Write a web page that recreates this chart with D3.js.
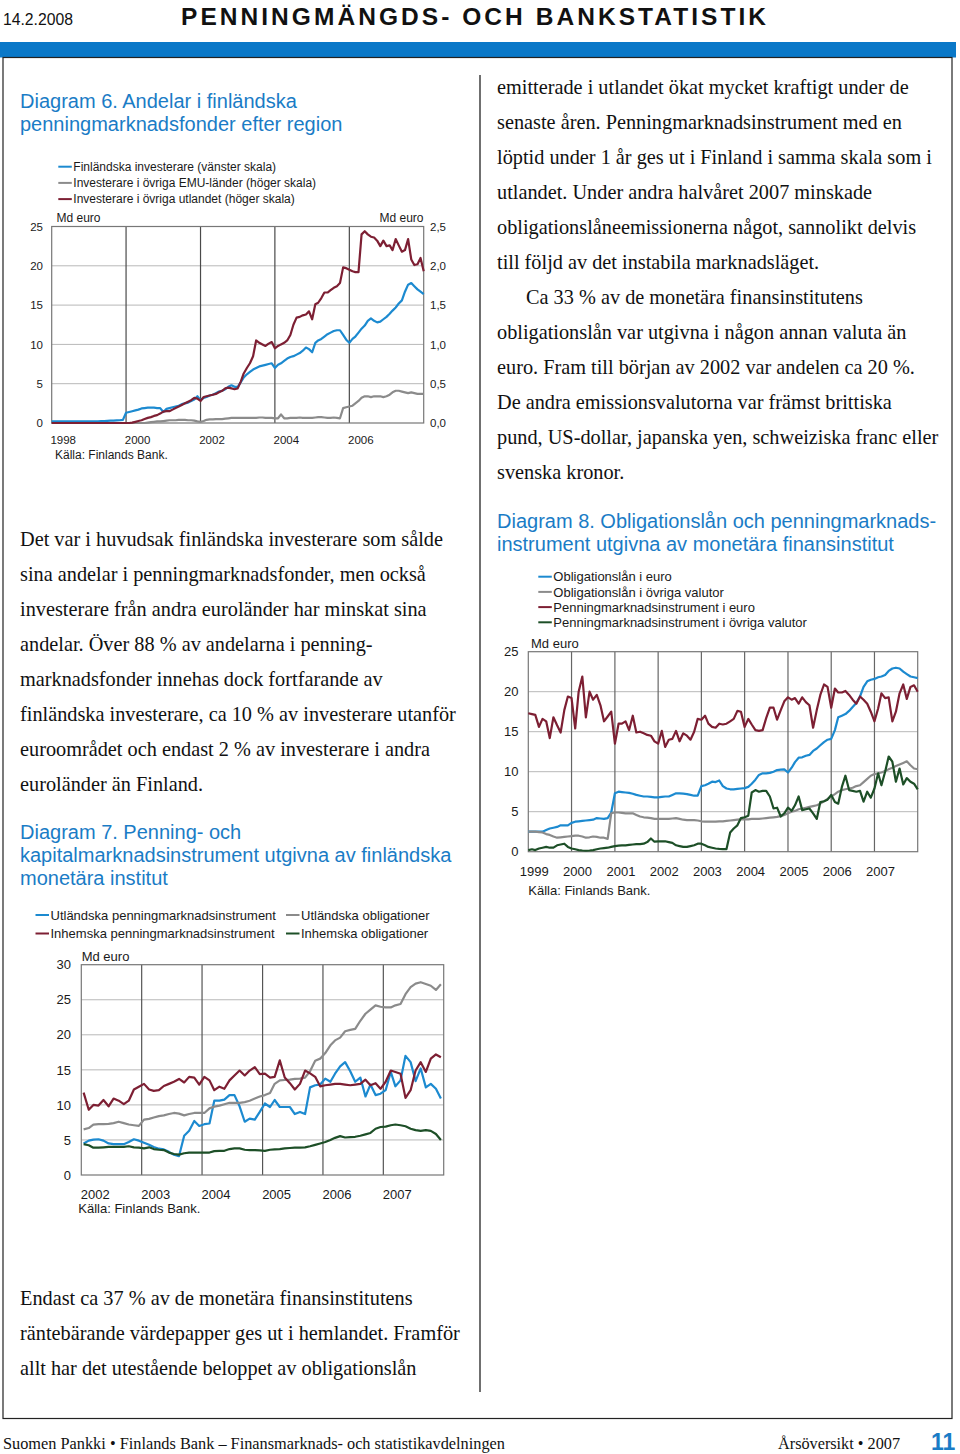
<!DOCTYPE html>
<html><head><meta charset="utf-8">
<script src="https://cdn.jsdelivr.net/npm/d3@7"></script>
<style>body{margin:0;background:#fff}svg{display:block}</style>
</head><body>
<svg id="page" width="960" height="1454"></svg>
<script>
// ---------------- DATA ----------------
// Diagram 6 (monthly from 1998-01), left scale Md euro; EMU/other on right scale Md euro
const c6Finnish = [0.2,
0.2,0.2,0.2,0.2,0.2,0.2,0.2,0.2,0.2,0.2,0.2,0.2,
0.2,0.2,0.22,0.25,0.25,0.28,0.3,0.3,0.33,0.35,0.4,
1.3,1.4,1.5,1.6,1.7,1.85,1.9,1.95,1.95,1.95,1.9,1.9,
1.4,1.8,1.9,2.0,2.1,2.2,2.4,2.5,2.6,2.8,3.0,3.4,
2.9,3.2,3.3,3.5,3.6,3.8,4.0,4.1,4.3,4.6,4.8,4.6,
4.6,5.2,5.8,6.2,6.5,6.8,7.0,7.2,7.3,7.4,7.5,7.6,
7.0,7.4,7.6,7.9,8.2,8.4,8.5,8.7,8.9,9.2,9.6,9.4,
9.0,10.2,10.5,10.7,11.0,11.3,11.5,11.7,11.8,11.8,11.2,10.6,
10.2,10.7,11.0,11.5,12.0,12.4,13.0,13.3,13.0,12.8,12.9,13.2,
13.5,13.9,14.3,14.7,15.2,15.6,16.7,17.6,17.8,17.4,17.0,16.7,
16.4];
const c6EMU = [0,
0,0,0,0,0,0,0,0,0,0,0,0,
0,0,0,0,0,0,0,0,0,0,0,
0,0,0,0,0,0,0,0.005,0.01,0.015,0.02,0.02,
0.025,0.03,0.035,0.035,0.035,0.04,0.04,0.04,0.035,0.035,0.03,0.02,
0.015,0.025,0.04,0.045,0.045,0.05,0.05,0.05,0.055,0.06,0.065,0.065,
0.065,0.065,0.065,0.065,0.065,0.065,0.065,0.07,0.07,0.065,0.065,0.065,
0.06,0.06,0.11,0.06,0.06,0.065,0.065,0.065,0.07,0.065,0.065,0.065,
0.065,0.07,0.075,0.075,0.07,0.065,0.065,0.07,0.065,0.06,0.19,0.20,
0.21,0.22,0.25,0.28,0.32,0.34,0.34,0.33,0.34,0.34,0.34,0.33,
0.34,0.36,0.39,0.41,0.41,0.40,0.39,0.38,0.39,0.38,0.37,0.37,
0.37];
const c6Other = [0,
0,0,0,0,0,0,0,0,0,0,0,0,
0,0,0,0,0,0,0,0,0,0,0,
0,0,0.005,0.015,0.025,0.035,0.05,0.065,0.075,0.09,0.1,0.12,
0.145,0.15,0.15,0.17,0.19,0.21,0.23,0.25,0.27,0.29,0.32,0.31,
0.28,0.33,0.34,0.35,0.36,0.37,0.39,0.41,0.44,0.45,0.44,0.43,
0.44,0.53,0.63,0.70,0.76,0.85,1.05,1.02,1.00,0.98,1.01,1.03,
0.95,0.98,1.00,1.02,1.05,1.12,1.25,1.34,1.35,1.37,1.38,1.42,
1.32,1.51,1.53,1.59,1.66,1.66,1.69,1.72,1.74,1.78,1.98,1.97,
1.95,1.93,1.92,1.92,2.40,2.44,2.40,2.37,2.36,2.32,2.25,2.32,
2.25,2.26,2.20,2.34,2.26,2.18,2.20,2.34,2.08,2.01,2.02,2.10,
1.93];
const c6Labels = ["Finländska investerare (vänster skala)","Investerare i övriga EMU-länder (höger skala)","Investerare i övriga utlandet (höger skala)"];
const c6YTicks = [0,5,10,15,20,25];
const c6YTicksRight = [0,0.5,1,1.5,2,2.5];
const c6XTicks = [1998,2000,2002,2004,2006];

// Diagram 8 (monthly from 1999-01)
const c8BondsEuro = [2.5,2.5,2.5,2.5,2.5,
2.7,2.9,3.0,3.1,3.3,3.3,3.3,3.6,3.75,3.8,
3.85,3.9,3.95,4.0,4.2,4.15,4.1,4.2,4.9,7.3,
7.5,7.45,7.4,7.35,7.25,7.1,7.0,6.9,6.9,6.85,
6.8,6.8,6.85,6.9,6.9,7.1,7.3,7.3,7.25,7.2,
7.1,7.0,7.0,8.2,8.3,8.5,8.75,8.7,8.9,8.2,
7.9,7.8,7.8,7.85,7.9,7.95,8.1,8.5,9.0,9.6,
9.8,9.8,9.85,10.0,10.2,10.25,10.3,9.9,10.5,11.2,
11.75,11.8,12.0,12.1,12.6,12.9,13.3,13.7,14.0,14.1,
15.2,16.8,17.0,17.2,17.6,18.1,18.6,19.4,20.6,21.3,
21.5,21.6,21.8,21.9,22.1,22.6,22.9,23.0,22.9,22.5,
22.2,21.9,21.8,21.7];
const c8BondsOther = [2.5,2.5,2.5,2.45,2.4,
2.2,2.1,1.9,1.75,1.8,1.85,1.9,1.95,2.0,2.0,
1.9,1.75,1.8,1.9,1.85,1.75,1.75,1.6,4.8,4.9,
4.9,4.85,4.8,4.8,4.8,4.6,4.4,4.3,4.25,4.2,
4.1,4.1,4.1,4.1,4.1,4.15,4.2,4.1,4.0,3.95,
3.95,3.95,3.9,3.8,3.75,3.75,3.75,3.75,3.8,3.8,
3.85,3.9,3.95,4.0,4.05,4.05,4.05,4.1,4.1,4.1,
4.15,4.2,4.25,4.3,4.35,4.45,4.6,4.8,5.0,5.1,
5.3,5.4,5.5,5.6,5.7,5.8,6.0,6.3,6.6,6.9,
7.2,7.5,7.7,7.8,7.9,8.0,8.2,8.3,8.7,9.1,
9.5,9.7,9.8,9.9,10.1,10.3,10.5,10.7,10.9,11.1,
11.3,10.8,10.4,10.3];
const c8MoneyEuro = [17.3,17.2,17.1,15.6,16.6,16.3,14.2,16.8,15.8,14.9,
17.7,19.4,19.2,15.4,20.0,21.9,16.8,20.0,19.0,19.6,
18.3,16.3,16.9,17.5,13.5,16.0,16.0,16.3,15.2,17.0,
14.9,15.0,14.8,14.6,14.5,13.8,13.5,15.1,13.1,14.0,
14.1,15.1,13.8,14.8,14.5,14.0,15.0,16.6,16.5,17.0,
16.0,15.6,15.5,16.0,15.9,16.0,16.3,16.6,17.6,17.5,
15.6,16.6,15.9,15.2,15.1,15.2,16.7,18.0,18.0,16.5,
17.7,18.8,19.3,19.0,19.2,18.5,19.3,18.7,18.3,15.5,
17.7,19.6,20.9,20.6,18.0,20.4,19.9,19.9,20.1,19.6,
19.0,18.5,19.4,19.0,18.5,17.5,16.3,17.9,19.8,19.2,
19.3,16.3,17.5,19.8,20.9,19.1,20.6,20.8,20.0];
const c8MoneyOther = [0.2,0.3,0.2,0.4,0.5,0.6,0.5,0.5,0.8,0.9,
1.0,0.6,0.4,0.3,0.2,0.15,0.12,0.15,0.2,0.3,
0.4,0.45,0.5,0.6,0.7,0.75,0.8,0.8,0.85,0.9,
0.95,0.95,1.0,1.2,1.65,1.25,1.3,1.3,1.3,1.2,
1.1,0.8,0.7,0.6,0.6,0.7,0.8,1.0,1.0,0.8,
0.6,0.5,0.4,0.35,0.33,0.33,2.4,2.9,3.3,4.2,
4.3,4.5,7.4,7.7,7.5,7.6,7.6,6.9,5.4,5.5,
4.4,4.8,5.5,5.1,5.8,6.9,5.2,5.3,5.4,4.8,
4.1,6.2,6.3,6.5,7.1,6.2,6.0,8.1,9.5,7.7,
7.6,7.5,7.6,6.25,7.5,6.75,7.9,9.8,8.3,10.0,
11.9,11.25,8.75,10.4,8.4,9.2,8.75,8.5,7.8];
const c8Labels = ["Obligationslån i euro","Obligationslån i övriga valutor","Penningmarknadsinstrument i euro","Penningmarknadsinstrument i övriga valutor"];
const c8YTicks = [0,5,10,15,20,25];
const c8XTicks = [1999,2000,2001,2002,2003,2004,2005,2006,2007];

// Diagram 7 (monthly from 2002-01)
const c7ForeignMoney = [4.5,4.9,5.05,5.1,4.9,4.5,4.4,4.4,4.4,4.7,
5.1,4.9,4.6,4.3,4.0,3.75,3.65,3.3,2.9,2.7,
5.6,6.3,7.7,7.0,7.25,7.35,10.6,10.6,10.75,11.4,
11.4,9.8,7.6,8.05,7.9,9.0,10.2,9.7,10.7,9.7,
9.7,9.7,8.7,9.0,8.7,12.5,12.8,12.9,13.75,13.3,
14.45,15.5,16.1,14.8,13.3,13.9,11.2,12.9,11.4,11.6,
12.1,14.7,12.65,13.5,17.0,16.1,13.4,15.2,12.5,13.0,
12.3,10.9];
const c7ForeignBonds = [6.5,6.7,7.2,7.25,7.25,7.3,7.4,7.6,7.4,7.2,
7.1,7.0,7.9,8.0,8.2,8.4,8.5,8.7,8.85,8.75,
8.5,8.7,8.85,8.85,8.85,9.5,9.75,9.9,10.1,10.3,
10.3,10.3,10.4,10.6,10.9,11.2,11.4,11.7,13.0,13.5,
13.55,13.6,13.7,13.75,13.9,14.8,16.3,16.6,17.4,18.5,
19.2,19.6,20.5,20.7,20.85,22.0,23.0,23.6,24.2,24.0,
23.9,23.9,24.2,24.4,25.8,26.8,27.3,27.5,27.25,27.0,
26.4,27.2];
const c7DomesticMoney = [11.75,9.3,10.0,9.9,10.7,9.8,10.9,10.6,10.1,10.6,
12.2,12.6,13.0,12.2,12.0,12.1,12.7,13.0,13.3,13.7,
13.2,14.0,13.9,12.9,14.0,13.5,12.1,12.6,12.3,13.5,
14.2,14.9,14.2,14.9,15.4,14.4,14.45,13.9,14.0,16.35,
13.9,13.1,12.2,13.0,14.9,14.5,14.0,12.65,12.8,12.9,
13.0,13.0,12.9,12.8,12.9,13.0,13.6,12.8,13.1,12.3,
13.3,14.9,14.7,14.45,11.0,12.1,14.9,16.1,14.7,16.6,
17.2,16.8];
const c7DomesticBonds = [4.4,4.25,3.9,3.9,3.95,4.0,4.0,4.0,4.0,4.1,
3.95,3.9,3.8,3.95,3.7,3.6,3.55,3.2,3.0,2.9,
3.1,3.2,3.2,3.2,3.2,3.2,3.4,3.45,3.45,3.7,
3.8,3.8,3.6,3.55,3.55,3.5,3.45,3.6,3.65,3.7,
3.8,3.85,3.9,3.9,3.95,4.1,4.3,4.5,4.7,5.0,
5.3,5.55,5.35,5.4,5.45,5.6,5.8,6.0,6.6,6.85,
6.9,7.1,7.2,7.1,6.95,6.6,6.4,6.3,6.4,6.3,
5.85,5.0];
const c7Labels = ["Utländska penningmarknadsinstrument","Utländska obligationer","Inhemska penningmarknadsinstrument","Inhemska obligationer"];
const c7YTicks = [0,5,10,15,20,25,30];
const c7XTicks = [2002,2003,2004,2005,2006,2007];

// Text
const headerDate = "14.2.2008";
const headerTitle = "PENNINGMÄNGDS- OCH BANKSTATISTIK";
const c6Title = ["Diagram 6. Andelar i finländska","penningmarknadsfonder efter region"];
const c8Title = ["Diagram 8. Obligationslån och penningmarknads-","instrument utgivna av monetära finansinstitut"];
const c7Title = ["Diagram 7. Penning- och","kapitalmarknadsinstrument utgivna av finländska","monetära institut"];
const leftText = ["Det var i huvudsak finländska investerare som sålde","sina andelar i penningmarknadsfonder, men också","investerare från andra euroländer har minskat sina","andelar. Över 88 % av andelarna i penning-","marknadsfonder innehas dock fortfarande av","finländska investerare, ca 10 % av investerare utanför","euroområdet och endast 2 % av investerare i andra","euroländer än Finland."];
const rightText = ["emitterade i utlandet ökat mycket kraftigt under de","senaste åren. Penningmarknadsinstrument med en","löptid under 1 år ges ut i Finland i samma skala som i","utlandet. Under andra halvåret 2007 minskade","obligationslåneemissionerna något, sannolikt delvis","till följd av det instabila marknadsläget.","Ca 33 % av de monetära finansinstitutens","obligationslån var utgivna i någon annan valuta än","euro. Fram till början av 2002 var andelen ca 20 %.","De andra emissionsvalutorna var främst brittiska","pund, US-dollar, japanska yen, schweiziska franc eller","svenska kronor."];
const bottomText = ["Endast ca 37 % av de monetära finansinstitutens","räntebärande värdepapper ges ut i hemlandet. Framför","allt har det utestående beloppet av obligationslån"];
const footerLeft = "Suomen Pankki • Finlands Bank – Finansmarknads- och statistikavdelningen";
const footerRight = "Årsöversikt • 2007";
const pageNo = "11";

// ---------------- DRAWING ----------------
const SANS = "'Liberation Sans', Arial, Helvetica, sans-serif";
const SERIF = "'Liberation Serif', 'Times New Roman', serif";
const BLUE = "#1c8ad0", RED = "#7d1f33", GRAY = "#8b8b8b", GREEN = "#1d4f27";
const TITLEBLUE = "#1a7cc6";
const svg = d3.select("#page");

function txt(x, y, s, o) {
  o = o || {};
  const t = svg.append("text").attr("x", x).attr("y", y).text(s)
    .attr("font-family", o.family || SANS).attr("font-size", o.size || 12)
    .attr("fill", o.fill || "#1a1a1a");
  if (o.anchor) t.attr("text-anchor", o.anchor);
  if (o.weight) t.attr("font-weight", o.weight);
  if (o.len) t.attr("textLength", o.len).attr("lengthAdjust", o.adjust || "spacing");
  return t;
}

// header
txt(3, 25, headerDate, {size: 16, len: 70, adjust: "spacingAndGlyphs", fill: "#111"});
txt(181, 25, headerTitle, {size: 24.5, weight: "bold", len: 585, fill: "#111"});
svg.append("rect").attr("x", 0).attr("y", 42).attr("width", 956).attr("height", 15.5).attr("fill", "#0a78c8");
svg.append("rect").attr("x", 3).attr("y", 57.5).attr("width", 949).attr("height", 1361)
  .attr("fill", "none").attr("stroke", "#222").attr("stroke-width", 1.2);
svg.append("line").attr("x1", 480).attr("x2", 480).attr("y1", 75).attr("y2", 1392)
  .attr("stroke", "#222").attr("stroke-width", 1.3);

// body texts
leftText.forEach((s, i) => txt(20, 546 + 35 * i, s, {family: SERIF, size: 20.3, fill: "#111"}));
rightText.forEach((s, i) => txt(i === 6 ? 526 : 497, 94 + 35 * i, s, {family: SERIF, size: 20.3, fill: "#111"}));
bottomText.forEach((s, i) => txt(20, 1305 + 35 * i, s, {family: SERIF, size: 20.3, fill: "#111"}));

// titles
c6Title.forEach((s, i) => txt(20, 108 + 23 * i, s, {size: 20, fill: TITLEBLUE}));
c8Title.forEach((s, i) => txt(497, 528 + 23 * i, s, {size: 20, fill: TITLEBLUE}));
c7Title.forEach((s, i) => txt(20, 839 + 23 * i, s, {size: 20, fill: TITLEBLUE}));

// footer
txt(3, 1449, footerLeft, {family: SERIF, size: 16, len: 502, adjust: "spacingAndGlyphs", fill: "#111"});
txt(778, 1449, footerRight, {family: SERIF, size: 16, len: 122, adjust: "spacingAndGlyphs", fill: "#111"});
txt(931, 1450, pageNo, {size: 23, weight: "bold", fill: TITLEBLUE});

function legendItem(x, y, color, label, size) {
  svg.append("line").attr("x1", x).attr("x2", x + 13.5).attr("y1", y).attr("y2", y)
    .attr("stroke", color).attr("stroke-width", 2);
  txt(x + 15, y + size * 0.36, label, {size: size});
}

function drawChart(cfg) {
  const g = svg.append("g");
  const x = d3.scaleTime().domain([cfg.start, cfg.end]).range([cfg.left, cfg.right]);
  const y = d3.scaleLinear().domain([0, cfg.yMax]).range([cfg.bottom, cfg.top]);
  // horizontal grid
  g.append("g").selectAll("line").data(cfg.yTicks.filter(v => v > 0 && v < cfg.yMax)).join("line")
    .attr("x1", cfg.left).attr("x2", cfg.right).attr("y1", d => y(d)).attr("y2", d => y(d))
    .attr("stroke", "#b8b8b8").attr("stroke-width", 1);
  // vertical grid
  g.append("g").selectAll("line").data(cfg.vGrid.map(yr => new Date(yr, 0, 1))).join("line")
    .attr("x1", d => x(d)).attr("x2", d => x(d)).attr("y1", cfg.top).attr("y2", cfg.bottom)
    .attr("stroke", cfg.vColor).attr("stroke-width", 1.2);
  // frame
  g.append("rect").attr("x", cfg.left).attr("y", cfg.top).attr("width", cfg.right - cfg.left)
    .attr("height", cfg.bottom - cfg.top).attr("fill", "none").attr("stroke", "#777").attr("stroke-width", 1.2);
  // series
  cfg.series.forEach(s => {
    const sc = s.right ? cfg.yRight : y;
    const line = d3.line().x((d, i) => x(cfg.dateOf(i))).y(d => sc(d));
    g.append("path").datum(s.values).attr("d", line).attr("fill", "none")
      .attr("stroke", s.color).attr("stroke-width", 2.2).attr("stroke-linejoin", "round");
  });
  // left axis labels
  const ay = g.append("g").attr("transform", `translate(${cfg.yLabelX},0)`)
    .call(d3.axisLeft(y).tickValues(cfg.yTicks).tickSize(0).tickPadding(0).tickFormat(d3.format("d")));
  ay.select(".domain").remove();
  ay.attr("font-family", SANS).attr("font-size", cfg.fs);
  ay.selectAll("text").attr("fill", "#1a1a1a");
  // x axis labels
  const ax = g.append("g").attr("transform", `translate(0,${cfg.xLabelY})`)
    .call(d3.axisBottom(x).tickValues(cfg.xTicks.map(yr => new Date(yr, 0, 1))).tickSize(0).tickPadding(0).tickFormat(d3.timeFormat("%Y")));
  ax.select(".domain").remove();
  ax.attr("font-family", SANS).attr("font-size", cfg.fs);
  ax.selectAll("text").attr("y", 0).attr("dy", 0).attr("dx", cfg.xLabelDx).attr("fill", "#1a1a1a");
  return {x, y, g};
}

// ---- Diagram 6 ----
const c6yR = d3.scaleLinear().domain([0, 2.5]).range([423, 226.5]);
const ch6 = drawChart({
  start: new Date(1998, 0, 1), end: new Date(2008, 0, 1),
  left: 51.7, right: 423.7, top: 226.5, bottom: 423, yMax: 25,
  yTicks: c6YTicks, vGrid: [2000, 2002, 2004, 2006], vColor: "#4a4a4a",
  xTicks: c6XTicks, xLabelY: 443.5, xLabelDx: 11, yLabelX: 43, fs: 11.5,
  dateOf: i => new Date(1998, i, 1), yRight: c6yR,
  series: [
    {values: c6Finnish, color: BLUE},
    {values: c6EMU, color: GRAY, right: true},
    {values: c6Other, color: RED, right: true}
  ]
});
const ayR = ch6.g.append("g").attr("transform", "translate(430,0)")
  .call(d3.axisRight(c6yR).tickValues(c6YTicksRight).tickSize(0).tickPadding(0)
    .tickFormat(d => d3.format(".1f")(d).replace(".", ",")));
ayR.select(".domain").remove();
ayR.attr("font-family", SANS).attr("font-size", 11.5);
ayR.selectAll("text").attr("fill", "#1a1a1a");
[BLUE, GRAY, RED].forEach((c, i) => legendItem(58.3, 166.7 + 16.2 * i, c, c6Labels[i], 12));
txt(56.5, 221.5, "Md euro", {size: 12});
txt(423.5, 221.5, "Md euro", {size: 12, anchor: "end"});
txt(55, 459, "Källa: Finlands Bank.", {size: 12});

// ---- Diagram 8 ----
drawChart({
  start: new Date(1999, 0, 1), end: new Date(2008, 0, 1),
  left: 528.3, right: 917.7, top: 651.7, bottom: 851.7, yMax: 25,
  yTicks: c8YTicks, vGrid: [2000, 2001, 2002, 2003, 2004, 2005, 2006, 2007], vColor: "#666",
  xTicks: c8XTicks, xLabelY: 876, xLabelDx: 5.5, yLabelX: 518.5, fs: 13,
  dateOf: i => new Date(1999, i, 1),
  series: [
    {values: c8BondsEuro, color: BLUE},
    {values: c8BondsOther, color: GRAY},
    {values: c8MoneyEuro, color: RED},
    {values: c8MoneyOther, color: GREEN}
  ]
});
[BLUE, GRAY, RED, GREEN].forEach((c, i) => legendItem(538.3, 576.7 + 15.2 * i, c, c8Labels[i], 13));
txt(531, 648, "Md euro", {size: 13});
txt(528.3, 895, "Källa: Finlands Bank.", {size: 13});

// ---- Diagram 7 ----
drawChart({
  start: new Date(2002, 0, 1), end: new Date(2008, 0, 1),
  left: 81.3, right: 443.7, top: 964.7, bottom: 1175, yMax: 30,
  yTicks: c7YTicks, vGrid: [2003, 2004, 2005, 2006, 2007], vColor: "#555",
  xTicks: c7XTicks, xLabelY: 1198.5, xLabelDx: 13.5, yLabelX: 71, fs: 13,
  dateOf: i => new Date(2002, i, 15),
  series: [
    {values: c7ForeignMoney, color: BLUE},
    {values: c7ForeignBonds, color: GRAY},
    {values: c7DomesticMoney, color: RED},
    {values: c7DomesticBonds, color: GREEN}
  ]
});
legendItem(35.5, 915, BLUE, c7Labels[0], 13);
legendItem(286, 915, GRAY, c7Labels[1], 13);
legendItem(35.5, 933.5, RED, c7Labels[2], 13);
legendItem(286, 933.5, GREEN, c7Labels[3], 13);
txt(81.7, 960.5, "Md euro", {size: 13});
txt(78.3, 1213, "Källa: Finlands Bank.", {size: 13});
</script>
</body></html>
